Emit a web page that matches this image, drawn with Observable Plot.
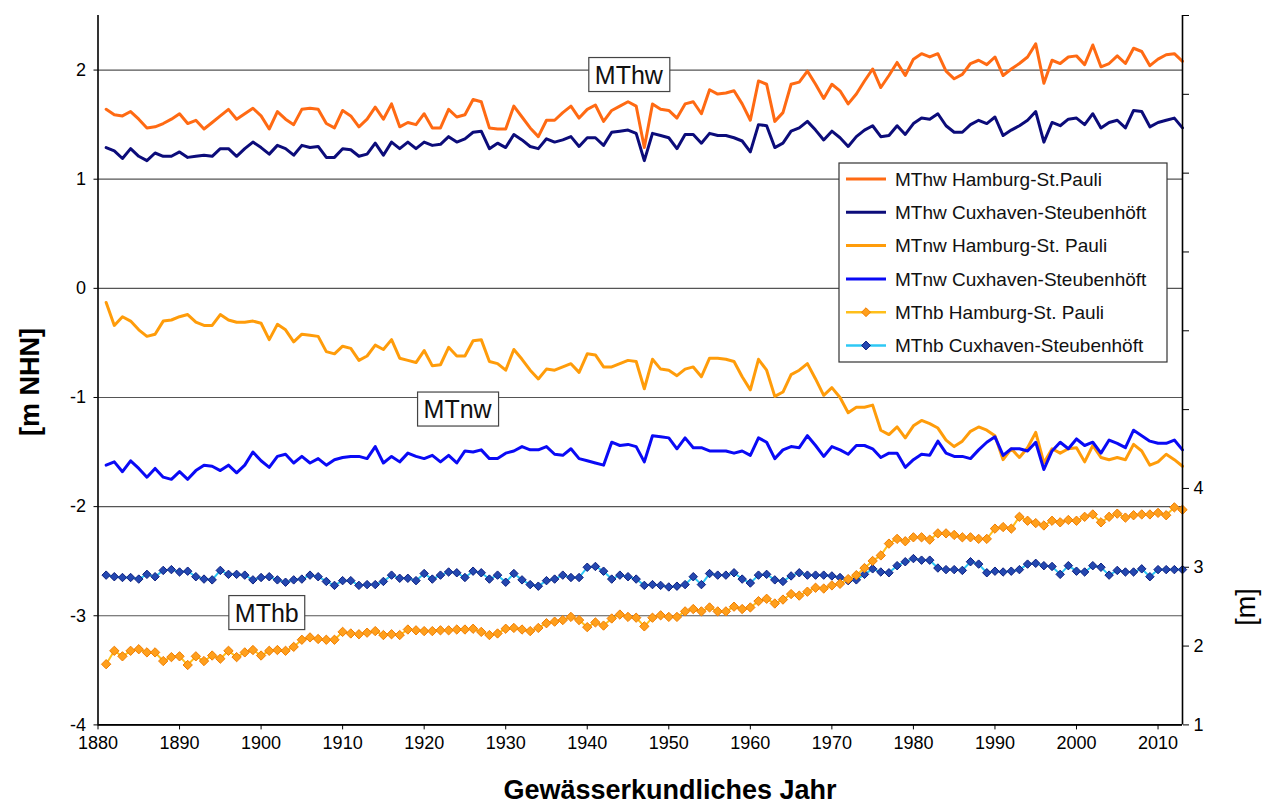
<!DOCTYPE html>
<html>
<head>
<meta charset="utf-8">
<script src="https://cdn.jsdelivr.net/npm/d3@7"></script>
<script src="https://cdn.jsdelivr.net/npm/@observablehq/plot@0.6"></script>
<style>
  html, body { margin: 0; padding: 0; background: #fff; }
  #chart { width: 1266px; height: 803px; }
</style>
</head>
<body>
<div id="chart"></div>
<script>
// Hydrological years 1881–2013
const firstYear = 1881, lastYear = 2013;
const years = d3.range(firstYear, lastYear + 1);

// Mean tidal high water [m NHN]
const mthwHamburg = [
  1.64, 1.59, 1.58, 1.62, 1.55, 1.47, 1.48, 1.51, 1.55, 1.60,
  1.51, 1.54, 1.46, 1.52, 1.58, 1.64, 1.55, 1.60, 1.65, 1.58,
  1.46, 1.62, 1.55, 1.50, 1.64, 1.65, 1.64, 1.51, 1.47, 1.63,
  1.58, 1.48, 1.55, 1.66, 1.55, 1.69, 1.48, 1.52, 1.50, 1.60,
  1.47, 1.47, 1.64, 1.57, 1.59, 1.73, 1.71, 1.47, 1.46, 1.46,
  1.67, 1.57, 1.47, 1.39, 1.54, 1.54, 1.61, 1.67, 1.56, 1.64,
  1.68, 1.53, 1.63, 1.67, 1.71, 1.67, 1.29, 1.69, 1.64, 1.63,
  1.56, 1.69, 1.71, 1.60, 1.82, 1.78, 1.79, 1.81, 1.69, 1.54,
  1.90, 1.87, 1.53, 1.61, 1.87, 1.89, 1.99, 1.87, 1.74, 1.87,
  1.81, 1.69, 1.78, 1.90, 2.01, 1.84, 1.95, 2.07, 1.95, 2.10,
  2.15, 2.12, 2.15, 1.99, 1.92, 1.96, 2.06, 2.09, 2.05, 2.12,
  1.95, 2.01, 2.06, 2.12, 2.24, 1.88, 2.09, 2.06, 2.12, 2.13,
  2.05, 2.23, 2.03, 2.06, 2.13, 2.06, 2.20, 2.17, 2.04, 2.10,
  2.14, 2.15, 2.08
];
const mthwCuxhaven = [
  1.29, 1.26, 1.19, 1.28, 1.21, 1.17, 1.24, 1.21, 1.21, 1.25,
  1.20, 1.21, 1.22, 1.21, 1.28, 1.28, 1.21, 1.28, 1.34, 1.29,
  1.23, 1.31, 1.28, 1.22, 1.31, 1.29, 1.30, 1.20, 1.20, 1.28,
  1.27, 1.21, 1.23, 1.33, 1.22, 1.34, 1.28, 1.34, 1.28, 1.34,
  1.31, 1.32, 1.39, 1.34, 1.37, 1.43, 1.44, 1.28, 1.33, 1.29,
  1.41, 1.36, 1.30, 1.28, 1.37, 1.34, 1.36, 1.39, 1.30, 1.38,
  1.38, 1.31, 1.43, 1.44, 1.45, 1.42, 1.17, 1.42, 1.40, 1.38,
  1.28, 1.41, 1.41, 1.33, 1.42, 1.40, 1.40, 1.38, 1.35, 1.25,
  1.50, 1.49, 1.29, 1.33, 1.44, 1.47, 1.53, 1.45, 1.36, 1.44,
  1.38, 1.30, 1.39, 1.45, 1.49, 1.39, 1.40, 1.49, 1.41, 1.51,
  1.56, 1.55, 1.60, 1.49, 1.43, 1.43, 1.50, 1.54, 1.51, 1.57,
  1.40, 1.45, 1.49, 1.54, 1.62, 1.34, 1.52, 1.49, 1.55, 1.56,
  1.50, 1.60, 1.47, 1.52, 1.54, 1.47, 1.63, 1.62, 1.48, 1.52,
  1.54, 1.56, 1.47
];

// Mean tidal low water [m NHN]
const mtnwHamburg = [
  -0.13, -0.34, -0.26, -0.30, -0.38, -0.44, -0.42, -0.30, -0.29, -0.26,
  -0.24, -0.31, -0.34, -0.34, -0.24, -0.29, -0.31, -0.31, -0.30, -0.32,
  -0.47, -0.33, -0.38, -0.49, -0.42, -0.43, -0.44, -0.58, -0.60, -0.53,
  -0.55, -0.66, -0.62, -0.52, -0.56, -0.47, -0.64, -0.66, -0.68, -0.57,
  -0.71, -0.70, -0.54, -0.62, -0.62, -0.48, -0.47, -0.67, -0.69, -0.75,
  -0.56, -0.65, -0.75, -0.83, -0.74, -0.75, -0.72, -0.69, -0.77, -0.60,
  -0.61, -0.72, -0.72, -0.69, -0.66, -0.67, -0.92, -0.65, -0.74, -0.75,
  -0.80, -0.74, -0.72, -0.81, -0.64, -0.64, -0.65, -0.67, -0.81, -0.93,
  -0.65, -0.75, -0.99, -0.95, -0.79, -0.75, -0.69, -0.83, -0.98, -0.91,
  -1.00, -1.14, -1.09, -1.09, -1.07, -1.30, -1.34, -1.27, -1.37, -1.26,
  -1.21, -1.24, -1.28, -1.39, -1.45, -1.40, -1.31, -1.27, -1.30, -1.35,
  -1.57, -1.47, -1.55, -1.46, -1.32, -1.60, -1.47, -1.51, -1.47, -1.46,
  -1.59, -1.44, -1.55, -1.57, -1.55, -1.57, -1.43, -1.49, -1.62, -1.59,
  -1.52, -1.57, -1.63
];
const mtnwCuxhaven = [
  -1.62, -1.59, -1.68, -1.58, -1.65, -1.73, -1.65, -1.73, -1.75, -1.68,
  -1.75, -1.67, -1.62, -1.63, -1.67, -1.62, -1.69, -1.62, -1.50, -1.58,
  -1.64, -1.54, -1.52, -1.60, -1.54, -1.60, -1.56, -1.62, -1.57, -1.55,
  -1.54, -1.54, -1.56, -1.45, -1.60, -1.54, -1.59, -1.51, -1.54, -1.56,
  -1.53, -1.59, -1.53, -1.60, -1.49, -1.50, -1.48, -1.56, -1.56, -1.51,
  -1.49, -1.45, -1.48, -1.48, -1.45, -1.52, -1.53, -1.47, -1.56, -1.58,
  -1.60, -1.62, -1.41, -1.44, -1.43, -1.45, -1.59, -1.35, -1.36, -1.37,
  -1.47, -1.37, -1.46, -1.46, -1.49, -1.49, -1.49, -1.51, -1.49, -1.53,
  -1.37, -1.41, -1.56, -1.48, -1.45, -1.46, -1.35, -1.44, -1.54, -1.45,
  -1.48, -1.52, -1.44, -1.44, -1.47, -1.55, -1.51, -1.51, -1.64, -1.57,
  -1.52, -1.53, -1.40, -1.51, -1.54, -1.54, -1.56, -1.48, -1.41, -1.36,
  -1.53, -1.47, -1.47, -1.49, -1.41, -1.66, -1.49, -1.41, -1.47, -1.38,
  -1.44, -1.41, -1.51, -1.39, -1.42, -1.46, -1.30, -1.35, -1.40, -1.42,
  -1.42, -1.39, -1.48
];

// Mean tidal range [m], read on the right-hand axis
const mthbHamburg = [
  1.77, 1.94, 1.87, 1.94, 1.96, 1.92, 1.92, 1.81, 1.86, 1.87,
  1.76, 1.87, 1.81, 1.88, 1.84, 1.94, 1.86, 1.92, 1.95, 1.88,
  1.94, 1.95, 1.94, 1.99, 2.08, 2.11, 2.09, 2.08, 2.08, 2.18,
  2.16, 2.15, 2.17, 2.19, 2.14, 2.15, 2.14, 2.21, 2.20, 2.19,
  2.19, 2.20, 2.20, 2.21, 2.21, 2.22, 2.18, 2.14, 2.16, 2.22,
  2.23, 2.21, 2.19, 2.23, 2.29, 2.31, 2.33, 2.37, 2.33, 2.24,
  2.30, 2.26, 2.35, 2.40, 2.37, 2.36, 2.25, 2.36, 2.39, 2.37,
  2.37, 2.44, 2.47, 2.44, 2.49, 2.44, 2.44, 2.50, 2.47, 2.49,
  2.57, 2.60, 2.54, 2.59, 2.66, 2.64, 2.69, 2.74, 2.73, 2.77,
  2.79, 2.85, 2.90, 2.99, 3.08, 3.15, 3.30, 3.36, 3.33, 3.38,
  3.38, 3.35, 3.43, 3.43, 3.41, 3.38, 3.38, 3.36, 3.36, 3.49,
  3.51, 3.49, 3.64, 3.59, 3.56, 3.53, 3.59, 3.57, 3.60, 3.59,
  3.64, 3.67, 3.57, 3.64, 3.68, 3.63, 3.66, 3.67, 3.67, 3.69,
  3.66, 3.76, 3.73
];
const mthbCuxhaven = [
  2.90, 2.88, 2.87, 2.87, 2.85, 2.91, 2.88, 2.96, 2.97, 2.94,
  2.95, 2.88, 2.85, 2.84, 2.96, 2.91, 2.91, 2.90, 2.84, 2.87,
  2.88, 2.84, 2.81, 2.84, 2.85, 2.90, 2.88, 2.82, 2.77, 2.83,
  2.83, 2.77, 2.78, 2.78, 2.82, 2.90, 2.86, 2.86, 2.83, 2.92,
  2.85, 2.90, 2.94, 2.93, 2.87, 2.95, 2.93, 2.85, 2.90, 2.81,
  2.92, 2.84, 2.78, 2.76, 2.83, 2.85, 2.90, 2.87, 2.87, 3.00,
  3.01, 2.95, 2.85, 2.90, 2.88, 2.85, 2.77, 2.78, 2.77, 2.75,
  2.76, 2.78, 2.88, 2.78, 2.92, 2.90, 2.90, 2.93, 2.85, 2.80,
  2.90, 2.91, 2.84, 2.82, 2.89, 2.93, 2.90, 2.90, 2.90, 2.89,
  2.87, 2.83, 2.84, 2.91, 2.98, 2.94, 2.93, 3.02, 3.07, 3.11,
  3.09, 3.09, 2.99, 2.97, 2.97, 2.96, 3.07, 3.04, 2.93, 2.95,
  2.94, 2.95, 2.97, 3.04, 3.05, 3.02, 3.01, 2.91, 3.02, 2.95,
  2.94, 3.02, 3.00, 2.90, 2.96, 2.94, 2.94, 2.98, 2.88, 2.97,
  2.97, 2.97, 2.97
];

const seriesLabels = [
  "MThw Hamburg-St.Pauli",
  "MThw Cuxhaven-Steubenhöft",
  "MTnw Hamburg-St. Pauli",
  "MTnw Cuxhaven-Steubenhöft",
  "MThb Hamburg-St. Pauli",
  "MThb Cuxhaven-Steubenhöft"
];

// Axis ticks and labels
const xTicks = [1880, 1890, 1900, 1910, 1920, 1930, 1940, 1950, 1960, 1970, 1980, 1990, 2000, 2010];
const leftTicks = [-4, -3, -2, -1, 0, 1, 2];
const rightTicks = [1, 2, 3, 4, 5, 6, 7, 8, 9, 10];
const rightTickLabels = ["1", "2", "3", "4", "", "", "", "", "", ""];

// Text labels placed in the chart (year, left-axis value)
const annotations = [
  {label: "MThw", year: 1945.1, value: 1.95},
  {label: "MTnw", year: 1924.1, value: -1.115},
  {label: "MThb", year: 1900.7, value: -2.98}
];

// Left axis spans [-4, 2.5] m NHN, right axis spans [1, 10] m
const leftDomain = [-4, 2.5];
const rightDomain = [1, 10];
const toLeft = r => leftDomain[0] + (r - rightDomain[0]) * (leftDomain[1] - leftDomain[0]) / (rightDomain[1] - rightDomain[0]);
const toRight = l => rightDomain[0] + (l - leftDomain[0]) * (rightDomain[1] - rightDomain[0]) / (leftDomain[1] - leftDomain[0]);

const rows = vals => years.map((year, i) => ({year, value: vals[i]}));

const colors = {
  hwHH: "#ff6a13",
  hwCux: "#0c0c7a",
  nwHH: "#ff9c0a",
  nwCux: "#0a0af5",
  hbHHLine: "#ffbf1a",
  hbHHDot: "#ff9f1c",
  hbHHDotStroke: "#f07d00",
  hbCuxLine: "#2ec8f5",
  hbCuxDot: "#2447b0",
  hbCuxDotStroke: "#0c2080"
};

const font = "Arial, 'Liberation Sans', sans-serif";

const chart = Plot.plot({
  width: 1266,
  height: 803,
  marginLeft: 97.5,
  marginRight: 84,
  marginTop: 15,
  marginBottom: 78.6,
  style: {fontFamily: font, fontSize: "18px", color: "#000", background: "#fff", overflow: "visible"},
  x: {domain: [1880, 2013], label: null},
  y: {domain: leftDomain, label: null},
  marks: [
    Plot.ruleY(leftTicks, {stroke: "#555", strokeWidth: 1.2}),
    Plot.axisX({ticks: xTicks, tickSize: 5, tickPadding: 6, tickFormat: d => String(d), fontSize: 18, label: null}),
    Plot.axisY({ticks: leftTicks, tickSize: 4, tickPadding: 8, tickFormat: d => String(d), fontSize: 18, label: null}),
    Plot.axisY({
      anchor: "right",
      ticks: rightTicks.map(toLeft),
      tickSize: 6,
      tickPadding: 5,
      fontSize: 18,
      label: null,
      tickFormat: d => rightTickLabels[rightTicks.indexOf(Math.round(toRight(d)))] ?? ""
    }),
    // Tidal range (right axis)
    Plot.line(rows(mthbCuxhaven), {x: "year", y: d => toLeft(d.value), stroke: colors.hbCuxLine, strokeWidth: 2}),
    Plot.dot(rows(mthbCuxhaven), {x: "year", y: d => toLeft(d.value), symbol: "diamond2", r: 3.8, fill: colors.hbCuxDot, stroke: colors.hbCuxDotStroke, strokeWidth: 1}),
    Plot.line(rows(mthbHamburg), {x: "year", y: d => toLeft(d.value), stroke: colors.hbHHLine, strokeWidth: 2}),
    Plot.dot(rows(mthbHamburg), {x: "year", y: d => toLeft(d.value), symbol: "diamond2", r: 4.2, fill: colors.hbHHDot, stroke: colors.hbHHDotStroke, strokeWidth: 1}),
    // Low water
    Plot.line(rows(mtnwHamburg), {x: "year", y: "value", stroke: colors.nwHH, strokeWidth: 3, strokeLinejoin: "round"}),
    Plot.line(rows(mtnwCuxhaven), {x: "year", y: "value", stroke: colors.nwCux, strokeWidth: 3, strokeLinejoin: "round"}),
    // High water
    Plot.line(rows(mthwHamburg), {x: "year", y: "value", stroke: colors.hwHH, strokeWidth: 3, strokeLinejoin: "round"}),
    Plot.line(rows(mthwCuxhaven), {x: "year", y: "value", stroke: colors.hwCux, strokeWidth: 3, strokeLinejoin: "round"}),
    // Axis lines
    Plot.ruleX([1880, 2013], {stroke: "#000", strokeWidth: 1.6}),
    Plot.ruleY([leftDomain[0]], {stroke: "#000", strokeWidth: 1.6}),
    // In-chart labels
    Plot.text(annotations, {x: "year", y: "value", text: "label", fontSize: 25, fill: "#111"})
  ]
});

document.getElementById("chart").appendChild(chart);

const svg = d3.select(chart);

// Framed boxes behind the in-chart labels
svg.selectAll('g[aria-label="text"] text').each(function () {
  const b = this.getBBox();
  const padX = 6, padY = 3;
  d3.select(this.parentNode).insert("rect", () => this)
    .attr("transform", this.getAttribute("transform"))
    .attr("x", b.x - padX).attr("y", b.y - padY)
    .attr("width", b.width + 2 * padX).attr("height", b.height + 2 * padY)
    .attr("fill", "#fff").attr("stroke", "#444").attr("stroke-width", 1.2);
});

// Legend
const legendEntries = [
  {label: seriesLabels[0], line: colors.hwHH},
  {label: seriesLabels[1], line: colors.hwCux},
  {label: seriesLabels[2], line: colors.nwHH},
  {label: seriesLabels[3], line: colors.nwCux},
  {label: seriesLabels[4], line: colors.hbHHLine, dot: colors.hbHHDot, dotStroke: colors.hbHHDotStroke},
  {label: seriesLabels[5], line: colors.hbCuxLine, dot: colors.hbCuxDot, dotStroke: colors.hbCuxDotStroke}
];
const lg = svg.append("g").attr("font-family", font).attr("font-size", 19).attr("text-anchor", "start");
lg.append("rect").attr("x", 839).attr("y", 163).attr("width", 328).attr("height", 199)
  .attr("fill", "#fff").attr("stroke", "#333").attr("stroke-width", 1.2);
legendEntries.forEach((e, i) => {
  const y = 179 + i * 33.3;
  lg.append("line").attr("x1", 846).attr("x2", 886).attr("y1", y).attr("y2", y)
    .attr("stroke", e.line).attr("stroke-width", e.dot ? 2.5 : 3);
  if (e.dot) {
    lg.append("path").attr("d", d3.symbol(d3.symbolDiamond2, 50)())
      .attr("transform", `translate(866,${y})`)
      .attr("fill", e.dot).attr("stroke", e.dotStroke).attr("stroke-width", 1);
  }
  lg.append("text").attr("x", 895).attr("y", y).attr("dy", "0.35em").attr("fill", "#111").text(e.label);
});

// Axis titles
svg.append("text").attr("transform", "translate(30,382) rotate(-90)")
  .attr("text-anchor", "middle").attr("dy", "0.35em")
  .attr("font-family", font).attr("font-size", 27).attr("font-weight", "bold").text("[m NHN]");
svg.append("text").attr("transform", "translate(1246,607) rotate(-90)")
  .attr("text-anchor", "middle").attr("dy", "0.35em")
  .attr("font-family", font).attr("font-size", 27).text("[m]");
svg.append("text").attr("x", 670).attr("y", 790).attr("dy", "0.35em")
  .attr("text-anchor", "middle")
  .attr("font-family", font).attr("font-size", 27).attr("font-weight", "bold").text("Gewässerkundliches Jahr");
</script>
</body>
</html>
